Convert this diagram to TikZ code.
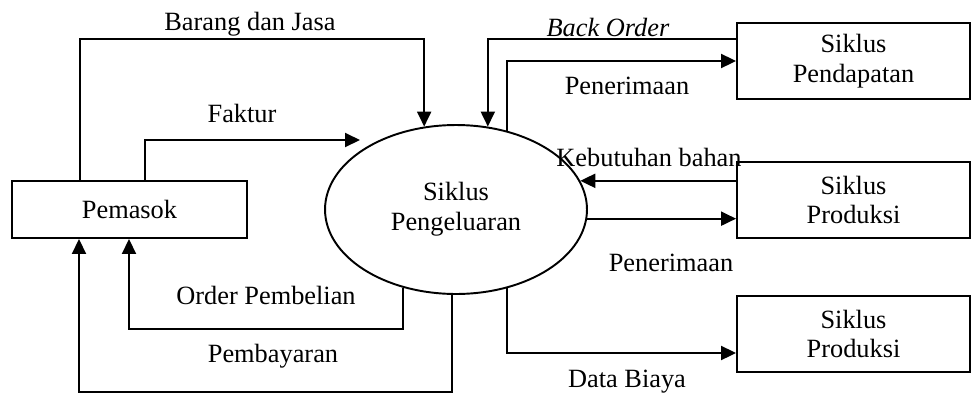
\documentclass[tikz,border=0pt]{standalone}
\usepackage{fontspec}
\setmainfont{Liberation Serif}
\usetikzlibrary{shapes.geometric,arrows.meta}
\begin{document}
\begin{tikzpicture}[x=0.02cm,y=-0.02cm,line width=1.1pt,
    every node/.style={font=\fontsize{15}{17}\selectfont},
    box/.style={draw,rectangle,minimum width=4.7cm,minimum height=1.14cm,align=center,inner sep=0pt},
    sidebox/.style={box,minimum width=4.66cm,minimum height=1.52cm},
    proc/.style={draw,ellipse,minimum width=5.24cm,minimum height=3.38cm,align=center,inner sep=0pt},
    flow/.style={-{Triangle[length=0.3cm,width=0.28cm]}},
    lbl/.style={inner sep=0pt}]
  \useasboundingbox (0,0) rectangle (972,396);
  \node[box] (pemasok) at (129.5,209.5) {Pemasok};
  \node[proc] (peng) at (456,209.5) {Siklus\\Pengeluaran};
  \node[sidebox] (pendapatan) at (853.5,61) {Siklus\\Pendapatan};
  \node[sidebox] (prod1) at (853.5,200) {Siklus\\Produksi};
  \node[sidebox] (prod2) at (853.5,334) {Siklus\\Produksi};
  \coordinate (fakturend) at (360,140);

  % arus pemasok
  \draw[flow] (pemasok.north -| 80,0) -- (80,39) -| (peng.111);
  \draw[flow] (pemasok.north -| 145,0) |- (fakturend);
  \draw[flow] (peng.236) -- (peng.236 |- 0,329) -| (pemasok.south -| 129,0);
  \draw[flow] (peng.267) -- (peng.267 |- 0,392) -| (pemasok.south -| 79,0);

  % arus siklus lain
  \draw[flow] (pendapatan.west |- 0,39) -| (peng.69);
  \draw[flow] (peng.57) |- (pendapatan.west);
  \draw[flow] (prod1.west |- peng.13) -- (peng.13);
  \draw[flow] (peng.356) -- (prod1.west |- peng.356);
  \draw[flow] (peng.303) |- (prod2.west |- 0,353);

  \node[lbl] (lbarang) at (250,24) {Barang dan Jasa};
  \node[lbl] (lfaktur) at (242,113) {Faktur};
  \node[lbl] (lorder) at (266,295) {Order Pembelian};
  \node[lbl] (lbayar) at (273,356) {Pembayaran};
  \node[lbl] (lback) at (608,27) {\textit{Back Order}};
  \node[lbl] (lterima) at (627,86) {Penerimaan};
  \node[lbl] (lbahan) at (649,157) {Kebutuhan bahan};
  \node[lbl] (lterima2) at (671,263) {Penerimaan};
  \node[lbl] (lbiaya) at (627,382) {Data Biaya};
\end{tikzpicture}
\end{document}
